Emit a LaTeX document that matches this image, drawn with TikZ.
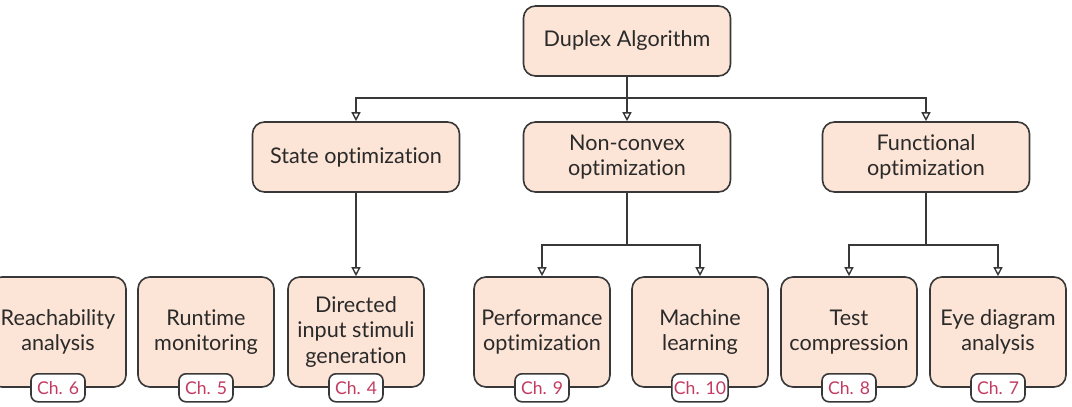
\documentclass[tikz,border=0pt]{standalone}
\usepackage{fontspec}
\setmainfont{Lato}[Ligatures=NoCommon]
\usetikzlibrary{arrows.meta}
\definecolor{peach}{HTML}{FCE4D6}
\definecolor{edgegray}{HTML}{383838}
\definecolor{textdark}{HTML}{2A2A2A}
\definecolor{chred}{HTML}{C23B62}

\begin{document}
\begin{tikzpicture}[x=0.5pt,y=-0.5pt,
  box/.style={rounded corners=6pt,draw=edgegray,line width=0.8pt,fill=peach,text=textdark,
    minimum width=103.5pt,minimum height=35pt,align=center,inner sep=2pt,
    font=\fontsize{10.8}{12.6}\selectfont},
  leaf/.style={box,minimum width=68pt,minimum height=55pt},
  ch/.style={rounded corners=3.5pt,draw=edgegray,line width=0.8pt,fill=white,text=chred,
    minimum width=27pt,minimum height=14pt,inner sep=1pt,font=\fontsize{8.8}{10}\selectfont},
  a/.style={-{Triangle[open,length=4.5pt,width=4.5pt]},line width=0.7pt,edgegray}]
\useasboundingbox (0,0) rectangle (1072,407);
\node[box] (root) at (627,41) {Duplex Algorithm};
\node[box] (s1) at (356,157) {State optimization};
\node[box] (s2) at (627,157) {Non-convex\\optimization};
\node[box] (s3) at (926,157) {Functional\\optimization};
\node[leaf] (l1) at (58,332) {Reachability\\analysis};
\node[leaf] (l2) at (206,332) {Runtime\\monitoring};
\node[leaf] (l3) at (356,332) {Directed\\input stimuli\\generation};
\node[leaf] (l4) at (542,332) {Performance\\optimization};
\node[leaf] (l5) at (700,332) {Machine\\learning};
\node[leaf] (l6) at (849,332) {Test\\compression};
\node[leaf] (l7) at (998,332) {Eye diagram\\analysis};
\node[ch] (c1) at (l1.south) {Ch. 6}; \node[ch] (c2) at (l2.south) {Ch. 5};
\node[ch] (c3) at (l3.south) {Ch. 4}; \node[ch] (c4) at (l4.south) {Ch. 9};
\node[ch] (c5) at (l5.south) {Ch. 10}; \node[ch] (c6) at (l6.south) {Ch. 8};
\node[ch] (c7) at (l7.south) {Ch. 7};
\coordinate (b0) at (627,98); \coordinate (b2) at (627,245); \coordinate (b3) at (926,245);
\draw[line width=0.7pt,edgegray] (root)--(b0) (s2)--(b2) (s3)--(b3);
\draw[a] (b0)-|(s1); \draw[a] (b0)--(s2); \draw[a] (b0)-|(s3);
\draw[a] (s1)--(l3);
\draw[a] (b2)-|(l4); \draw[a] (b2)-|(l5);
\draw[a] (b3)-|(l6); \draw[a] (b3)-|(l7);
\end{tikzpicture}
\end{document}
